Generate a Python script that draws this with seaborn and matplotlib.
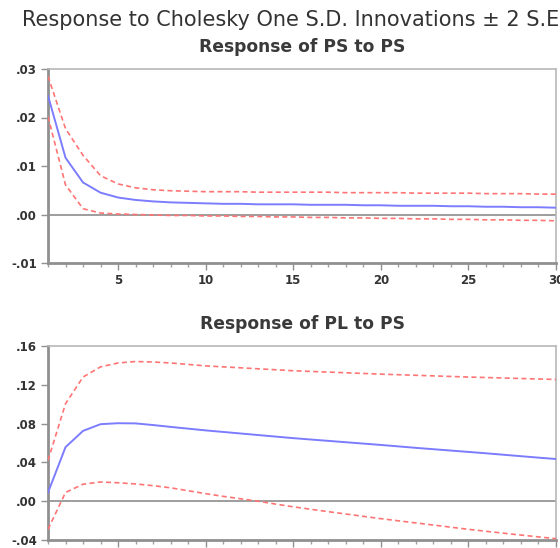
import numpy as np
import pandas as pd
import matplotlib
matplotlib.use("Agg")
import matplotlib.pyplot as plt
import seaborn as sns
from matplotlib.ticker import FixedLocator, FixedFormatter, MultipleLocator

periods = list(range(1, 31))

ps_resp = [.0245, .0117, .0066, .0045, .0035, .0030, .0027, .0025, .0024, .0023,
           .0022, .0022, .0021, .0021, .0021, .0020, .0020, .0020, .0019, .0019,
           .0018, .0018, .0018, .0017, .0017, .0016, .0016, .0015, .0015, .0014]
ps_upper = [.0285, .0177, .0122, .0080, .0063, .0055, .0051, .0049, .0048, .0047,
            .0047, .0047, .0046, .0046, .0046, .0046, .0046, .0045, .0045, .0045,
            .0045, .0044, .0044, .0044, .0044, .0043, .0043, .0043, .0042, .0042]
ps_lower = [.0202, .0061, .0012, .0003, .0001, .0000, -.0001, -.0002, -.0002, -.0003,
            -.0003, -.0004, -.0004, -.0005, -.0005, -.0006, -.0006, -.0007, -.0007, -.0008,
            -.0008, -.0009, -.0009, -.0010, -.0010, -.0011, -.0011, -.0012, -.0012, -.0013]

pl_resp = [.0090, .0557, .0725, .0794, .0804, .0802, .0785, .0766, .0748, .0730,
           .0714, .0698, .0682, .0666, .0650, .0636, .0622, .0608, .0594, .0580,
           .0565, .0550, .0536, .0522, .0508, .0494, .0479, .0464, .0449, .0435]
pl_upper = [.0420, .1005, .1280, .1385, .1425, .1440, .1435, .1425, .1410, .1395,
            .1385, .1375, .1365, .1355, .1345, .1338, .1331, .1324, .1317, .1310,
            .1304, .1298, .1292, .1286, .1280, .1275, .1270, .1265, .1260, .1255]
pl_lower = [-.0290, .0090, .0175, .0198, .0190, .0178, .0160, .0138, .0108, .0078,
            .0050, .0025, .0000, -.0030, -.0058, -.0083, -.0108, -.0132, -.0156, -.0180,
            -.0202, -.0224, -.0246, -.0268, -.0290, -.0310, -.0330, -.0349, -.0368, -.0386]

ps_ticks = [-.01, .00, .01, .02, .03]
ps_ticklabels = ["-.01", ".00", ".01", ".02", ".03"]
pl_ticks = [-.04, .00, .04, .08, .12, .16]
pl_ticklabels = ["-.04", ".00", ".04", ".08", ".12", ".16"]
x_ticks = [5, 10, 15, 20, 25, 30]
x_ticklabels = ["5", "10", "15", "20", "25", "30"]

suptitle = "Response to Cholesky One S.D. Innovations \u00b1 2 S.E."
titles = ["Response of PS to PS", "Response of PL to PS"]

sns.set_theme(style="white")
plt.rcParams['font.family'] = ['DejaVu Sans']

W, H = 560, 548
fig = plt.figure(figsize=(W / 100, H / 100), dpi=100)

def px_axes(left, top, right, bottom):
    return fig.add_axes([left / W, 1 - bottom / H, (right - left) / W, (bottom - top) / H])

ax1 = px_axes(48, 69, 556, 263)
ax2 = px_axes(48, 346, 556, 540)

blue = "#7c7cff"
red = "#ff7474"

panels = [
    (ax1, ps_resp, ps_upper, ps_lower, ps_ticks, ps_ticklabels, (-.01, .03), titles[0], True),
    (ax2, pl_resp, pl_upper, pl_lower, pl_ticks, pl_ticklabels, (-.04, .16), titles[1], False),
]

for ax, resp, up, lo, yt, ytl, ylim, title, show_x in panels:
    df = pd.DataFrame({"period": periods, "resp": resp, "upper": up, "lower": lo})
    ax.axhline(0, color="#8c8c8c", lw=1.2, zorder=1)
    sns.lineplot(data=df, x="period", y="upper", ax=ax, color=red, lw=1.2, zorder=3)
    ax.lines[-1].set_dashes([3, 2])
    sns.lineplot(data=df, x="period", y="lower", ax=ax, color=red, lw=1.2, zorder=3)
    ax.lines[-1].set_dashes([3, 2])
    sns.lineplot(data=df, x="period", y="resp", ax=ax, color=blue, lw=1.4, zorder=4)
    ax.set_xlim(1, 30)
    ax.set_ylim(*ylim)
    ax.set_xlabel("")
    ax.set_ylabel("")
    ax.yaxis.set_major_locator(FixedLocator(yt))
    ax.yaxis.set_major_formatter(FixedFormatter(ytl))
    ax.xaxis.set_major_locator(FixedLocator(x_ticks))
    ax.xaxis.set_major_formatter(FixedFormatter(x_ticklabels))
    ax.xaxis.set_minor_locator(MultipleLocator(1))
    ax.tick_params(axis="both", which="major", direction="out", length=5, width=1,
                   color="#909090", labelsize=8.5, labelcolor="#333333", pad=3,
                   bottom=True, left=True)
    ax.tick_params(axis="x", which="minor", direction="out", length=3, width=1,
                   color="#a0a0a0", bottom=True)
    ax.tick_params(axis="x", labelbottom=show_x)
    for lab in ax.get_xticklabels() + ax.get_yticklabels():
        lab.set_fontweight("bold")
    for side in ["left", "bottom"]:
        ax.spines[side].set_color("#909090")
        ax.spines[side].set_linewidth(2)
    for side in ["top", "right"]:
        ax.spines[side].set_color("#b8b8b8")
        ax.spines[side].set_linewidth(1.2)
    ax.set_title(title, fontsize=12.3, fontweight="bold", color="#3a3a3a", pad=12)

fig.text(22 / W, 1 - 26 / H, suptitle, ha="left", va="baseline",
         fontsize=15, color="#333333")

fig.savefig("out.png", dpi=100)
